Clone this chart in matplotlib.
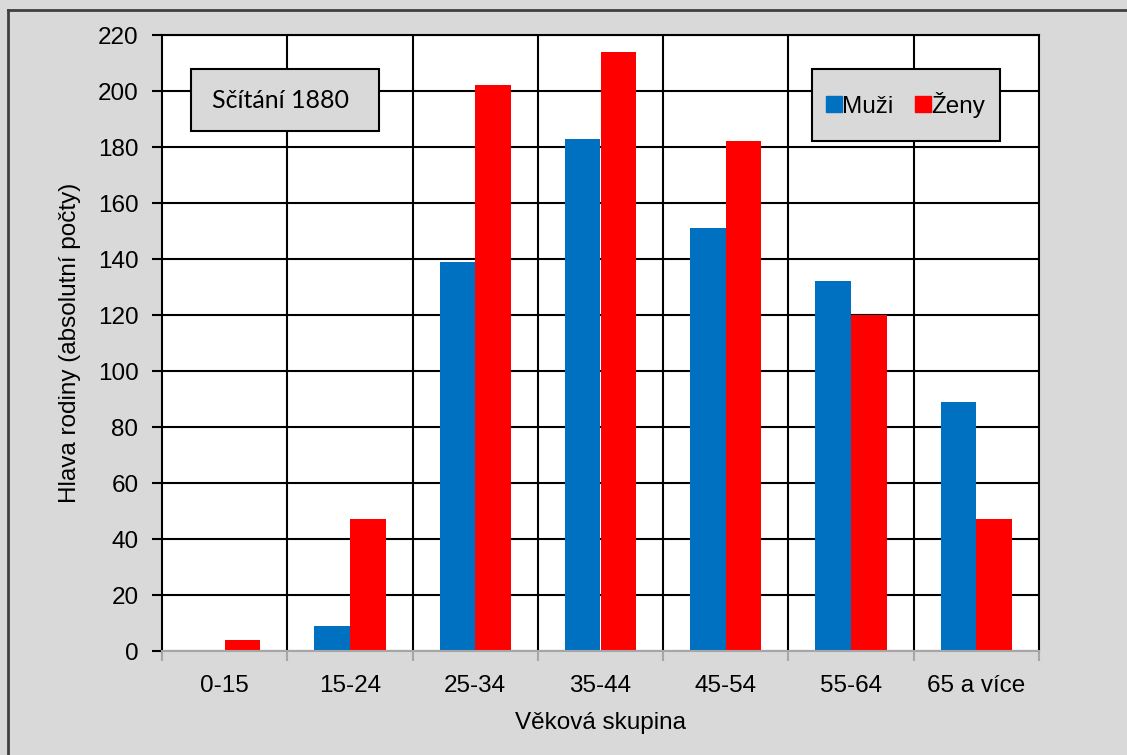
import matplotlib.pyplot as plt
import numpy as np
from matplotlib.lines import Line2D
from matplotlib.patches import Rectangle

# data
categories = ["0-15", "15-24", "25-34", "35-44", "45-54", "55-64", "65 a více"]
muzi = [0, 9, 139, 183, 151, 132, 89]
zeny = [4, 47, 202, 214, 182, 120, 47]
y_ticks = list(range(0, 221, 20))

bg = "#d9d9d9"
blue = "#0070c0"
red = "#ff0000"
fs = 17.5

plt.rcParams['font.family'] = ['Liberation Sans', 'DejaVu Sans']

fig = plt.figure(figsize=(11.27, 7.55), dpi=100, facecolor=bg)
W, H = 1127, 755
# plot area in pixels: left 162, right 1039, top 35, bottom 651
ax = fig.add_axes([162 / W, 1 - 651 / H, 877 / W, 616 / H])
ax.set_facecolor("white")

x = np.arange(len(categories))
bw = 0.285
ax.bar(x - bw / 2, muzi, bw, color=blue, zorder=2)
ax.bar(x + bw / 2, zeny, bw, color=red, zorder=2)

ax.set_xlim(-0.5, len(categories) - 0.5)
ax.set_ylim(0, 220)
ax.set_yticks(y_ticks)
ax.set_xticks(x)
ax.set_xticklabels(categories)
ax.set_xticks(np.arange(-0.5, len(categories), 1), minor=True)

# grid lines
ax.set_axisbelow(True)
ax.grid(axis='y', color='black', linewidth=1.5, zorder=1)
for b in np.arange(0.5, len(categories) - 0.5, 1):
    ax.axvline(b, color='black', linewidth=1.5, zorder=1)

for side in ['left', 'top', 'right']:
    ax.spines[side].set_color('black')
    ax.spines[side].set_linewidth(1.5)
ax.spines['bottom'].set_color('#a6a6a6')
ax.spines['bottom'].set_linewidth(1.5)

ax.tick_params(axis='y', length=7, width=1.5, color='black', labelsize=fs, pad=10)
ax.tick_params(axis='x', which='major', length=0, labelsize=fs, pad=17)
ax.tick_params(axis='x', which='minor', length=7, width=1.5, color='#a6a6a6')

ax.set_xlabel("Věková skupina", fontsize=fs, labelpad=11)
ax.set_ylabel("Hlava rodiny (absolutní počty)", fontsize=fs, labelpad=12)

# annotation box
ax.add_patch(Rectangle((29 / 877, 520 / 616), 188 / 877, 62 / 616, transform=ax.transAxes,
                       facecolor=bg, edgecolor='black', linewidth=1.5, zorder=4))
ax.text((280 - 162) / 877, (651 - 100) / 616, "Sčítání 1880", transform=ax.transAxes,
        ha='center', va='center', fontsize=18, family=['Lato', 'DejaVu Sans'], zorder=5)

# legend box
ax.add_patch(Rectangle((650 / 877, 510 / 616), 188 / 877, 72 / 616, transform=ax.transAxes,
                       facecolor=bg, edgecolor='black', linewidth=1.5, zorder=4))
handles = [Line2D([], [], marker='s', linestyle='', color=blue, markersize=11),
           Line2D([], [], marker='s', linestyle='', color=red, markersize=11)]
leg = ax.legend(handles, ["Muži", "Ženy"], loc='center', ncol=2, frameon=False,
                bbox_to_anchor=((906 - 162) / 877, (651 - 105) / 616), fontsize=fs,
                handlelength=0.6, handletextpad=0.05, columnspacing=0.9)
leg.set_zorder(6)

# outer border (left and top only visible)
fig.add_artist(Line2D([8 / W, 8 / W], [0, 1 - 10 / H], color='#404040', linewidth=2))
fig.add_artist(Line2D([8 / W, 1], [1 - 10 / H, 1 - 10 / H], color='#404040', linewidth=2))

fig.savefig("out.png", dpi=100, facecolor=bg)
